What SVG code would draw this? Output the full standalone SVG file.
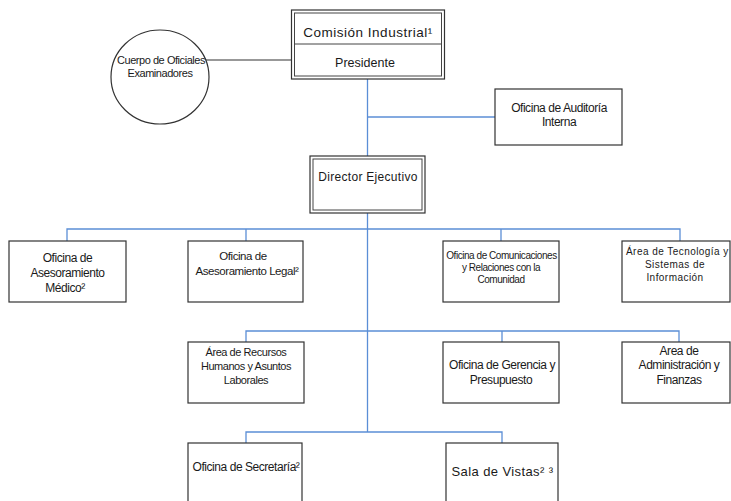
<svg xmlns="http://www.w3.org/2000/svg" width="731" height="501" viewBox="0 0 731 501">
<style>
.box{fill:#fff;stroke:#333;stroke-width:1.2}
.dbl{fill:none;stroke:#444;stroke-width:1}
.conn{fill:none;stroke:#5b8ed6;stroke-width:1.3}
.blk{fill:none;stroke:#333;stroke-width:1.2}
.c{font-family:"Liberation Sans",Arial,sans-serif;font-size:12px;letter-spacing:-0.45px;fill:#1a1a1a;text-anchor:middle}
.s{font-size:11px}
.m{font-size:10px;letter-spacing:-0.45px}
.n{font-family:"Liberation Sans",Arial,sans-serif;fill:#1a1a1a;text-anchor:middle}
.w{font-family:"Liberation Sans",Arial,sans-serif;font-size:10px;letter-spacing:0.45px;fill:#1a1a1a;text-anchor:middle}
</style>
<rect width="731" height="501" fill="#fff"/>
<g id="connectors">
<line class="blk" x1="206" y1="60" x2="291.5" y2="60"/>
<line class="conn" x1="367.5" y1="79" x2="367.5" y2="432"/>
<line class="conn" x1="367.5" y1="117" x2="495" y2="117"/>
<polyline class="conn" points="67,241 67,229 680,229 680,241"/>
<line class="conn" x1="246" y1="229" x2="246" y2="241"/>
<line class="conn" x1="501" y1="229" x2="501" y2="241"/>
<polyline class="conn" points="246,342 246,331 679,331 679,342"/>
<line class="conn" x1="502" y1="331" x2="502" y2="342"/>
<polyline class="conn" points="246,443 246,432 502,432 502,443"/>
</g>
<g id="cuerpo">
<ellipse cx="160" cy="77" rx="49" ry="47" fill="#fff" stroke="#333" stroke-width="1.2"/>
<text class="c s" x="161" y="63.5">Cuerpo de Oficiales</text>
<text class="c s" x="160" y="76.5">Examinadores</text>
</g>
<g id="comision">
<rect class="box" x="291.5" y="10" width="153" height="69"/>
<rect class="dbl" x="294.5" y="13" width="147" height="63"/>
<line class="dbl" x1="294.5" y1="44" x2="441.5" y2="44"/>
<text class="n" x="368" y="37" style="font-size:13.5px;letter-spacing:0.5px">Comisión Industrial¹</text>
<text class="c" x="365" y="67" style="font-size:12.5px;letter-spacing:0px">Presidente</text>
</g>
<g id="auditoria">
<rect class="box" x="495" y="89" width="127" height="56"/>
<text class="c" x="559" y="112">Oficina de Auditoría</text>
<text class="c" x="559" y="126">Interna</text>
</g>
<g id="director">
<rect class="box" x="310" y="156" width="115" height="57"/>
<rect class="dbl" x="313" y="159" width="109" height="51"/>
<text class="n" x="368" y="181" style="font-size:12px;letter-spacing:0.3px">Director Ejecutivo</text>
</g>
<g id="medico">
<rect class="box" x="9" y="241" width="117" height="61"/>
<text class="c" x="67.5" y="262">Oficina de</text>
<text class="c" x="67.5" y="277">Asesoramiento</text>
<text class="c" x="65" y="291.5">Médico²</text>
</g>
<g id="legal">
<rect class="box" x="188" y="241" width="115" height="61"/>
<text class="c" x="243" y="260" style="font-size:11.5px">Oficina de</text>
<text class="c" x="247" y="275" style="font-size:11.5px">Asesoramiento Legal²</text>
</g>
<g id="comunicaciones">
<rect class="box" x="443" y="241" width="116" height="61"/>
<text class="c m" x="501.5" y="258.5">Oficina de Comunicaciones</text>
<text class="c m" x="501" y="270.5">y Relaciones con la</text>
<text class="c m" x="501" y="282.5">Comunidad</text>
</g>
<g id="tecnologia">
<rect class="box" x="622" y="241" width="108" height="61"/>
<text class="w" x="626" y="254.5" style="text-anchor:start">Área de Tecnología y</text>
<text class="w" x="675" y="268">Sistemas de</text>
<text class="w" x="675" y="281">Información</text>
</g>
<g id="rrhh">
<rect class="box" x="188" y="342" width="116" height="61"/>
<text class="c s" x="246" y="356">Área de Recursos</text>
<text class="c s" x="246" y="370">Humanos y Asuntos</text>
<text class="c s" x="246" y="383.5">Laborales</text>
</g>
<g id="gerencia">
<rect class="box" x="443" y="342" width="116" height="61"/>
<text class="c" x="502" y="369">Oficina de Gerencia y</text>
<text class="c" x="501" y="383.5">Presupuesto</text>
</g>
<g id="finanzas">
<rect class="box" x="622" y="342" width="108" height="61"/>
<text class="c" x="679" y="355">Area de</text>
<text class="c" x="679" y="369">Administración y</text>
<text class="c" x="679" y="383.5">Finanzas</text>
</g>
<g id="secretaria">
<rect class="box" x="188" y="443" width="114" height="70"/>
<text class="c" x="246" y="471">Oficina de Secretaría²</text>
</g>
<g id="sala">
<rect class="box" x="446" y="443" width="112" height="70"/>
<text class="n" x="451.5" y="476" style="font-size:13px;letter-spacing:0.4px;text-anchor:start">Sala de Vistas² ³</text>
</g>
</svg>
